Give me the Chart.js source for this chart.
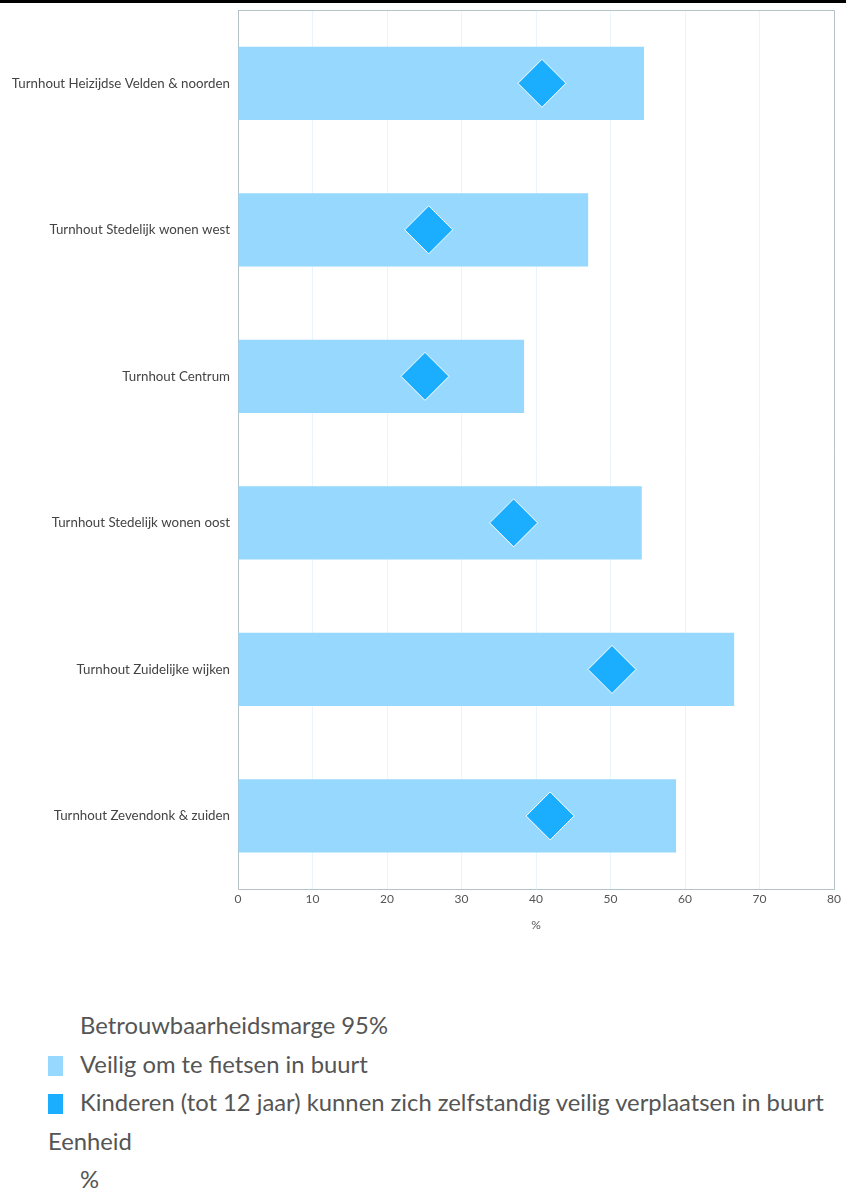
<!DOCTYPE html>
<html>
<head>
<meta charset="utf-8">
<script src="https://cdn.jsdelivr.net/npm/chart.js@4"></script>
<style>
  body { margin: 0; background: #fff; font-family: Lato, sans-serif; }
  #topline { height: 3px; background: #000; }
  #wrap { position: relative; width: 846px; height: 933px; }
  #legend { color: #555; font-size: 23.8px; margin-top: 70px; }
  #legend div { height: 38.5px; line-height: 38.5px; white-space: nowrap; }
  .sw { display: inline-block; width: 15px; height: 20px; vertical-align: -3px; margin-right: 17px; }
</style>
</head>
<body>
<div id="topline"></div>
<div id="wrap"><canvas id="chart"></canvas></div>
<div id="legend">
  <div style="padding-left:80px">Betrouwbaarheidsmarge 95%</div>
  <div style="padding-left:48px"><span class="sw" style="background:#96d8fe"></span>Veilig om te fietsen in buurt</div>
  <div style="padding-left:48px"><span class="sw" style="background:#1caefe"></span>Kinderen (tot 12 jaar) kunnen zich zelfstandig veilig verplaatsen in buurt</div>
  <div style="padding-left:48px">Eenheid</div>
  <div style="padding-left:80px">%</div>
</div>
<script>
"use strict";

const categories = [
    "Turnhout Heizijdse Velden & noorden",
    "Turnhout Stedelijk wonen west",
    "Turnhout Centrum",
    "Turnhout Stedelijk wonen oost",
    "Turnhout Zuidelijke wijken",
    "Turnhout Zevendonk & zuiden"
];
const fietsen = [54.5, 47.0, 38.4, 54.2, 66.6, 58.8];
const kinderen = [40.8, 25.6, 25.1, 37.0, 50.2, 41.9];
const xTicks = [0, 10, 20, 30, 40, 50, 60, 70, 80];

const ctx = document.getElementById('chart').getContext('2d');

// Diamanten bovenop de balken
new Chart(ctx, {
    type: 'bar',
    data: {
        labels: categories,
        datasets: [
            {
                type: 'line',
                label: 'Kinderen (tot 12 jaar) kunnen zich zelfstandig veilig verplaatsen in buurt',
                data: kinderen,
                showLine: false,
                pointStyle: 'rectRot',
                pointRadius: 24,
                pointHoverRadius: 24,
                backgroundColor: '#1caefe',
                borderColor: '#ffffff',
                pointBorderWidth: 1,
                order: 0
            },
            {
                label: 'Veilig om te fietsen in buurt',
                data: fietsen,
                backgroundColor: '#96d8fe',
                borderWidth: 0,
                barPercentage: 0.5,
                categoryPercentage: 1,
                order: 1
            }
        ]
    },
    options: {
        indexAxis: 'y',
        responsive: true,
        maintainAspectRatio: false,
        animation: false,
        layout: { autoPadding: false, padding: { top: 7, right: 12, bottom: 0, left: 0 } },
        plugins: { legend: { display: false }, tooltip: { enabled: false } },
        scales: {
            x: {
                type: 'linear',
                min: 0, max: 80,
                afterBuildTicks: s => { s.ticks = xTicks.map(v => ({ value: v })); },
                grid: { color: '#e8f5fc', drawTicks: false },
                border: { color: '#b5c3c9' },
                ticks: { color: '#555', font: { family: 'Lato', size: 12 }, padding: 3 },
                title: { display: true, text: '%', color: '#555', font: { family: 'Lato', size: 12 }, padding: { top: 8 } }
            },
            y: {
                grid: { display: false, drawTicks: false },
                border: { color: '#b5c3c9' },
                ticks: { color: '#444', font: { family: 'Lato', size: 13.3 }, padding: 8 },
                afterFit: s => {
                    s.width = 238;
                    s.paddingTop = 0;
                    s.paddingBottom = 0;
                }
            }
        }
    },
    plugins: [{
        id: 'frame',
        afterDraw(chart) {
            const a = chart.chartArea, c = chart.ctx;
            c.save();
            c.strokeStyle = '#b5c3c9';
            c.lineWidth = 1;
            c.beginPath();
            c.moveTo(a.left, a.top + 0.5);
            c.lineTo(a.right + 0.5, a.top + 0.5);
            c.lineTo(a.right + 0.5, a.bottom);
            c.stroke();
            c.restore();
        }
    }]
});
</script>
</body>
</html>
